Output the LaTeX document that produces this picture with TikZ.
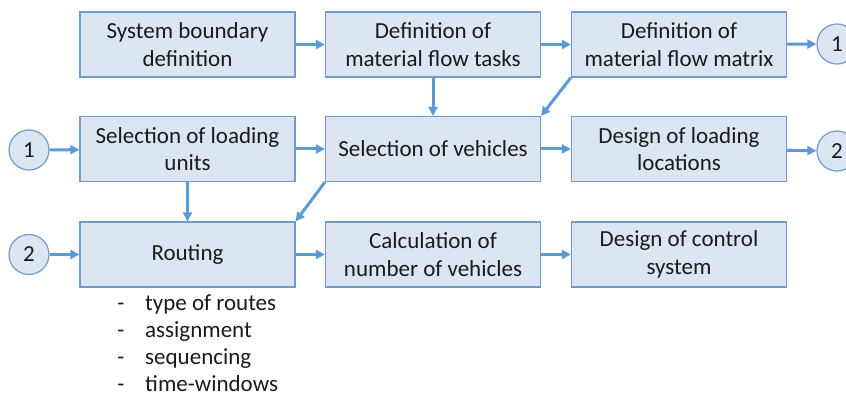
\documentclass[tikz,border=0pt]{standalone}
\usepackage{fontspec}
\setmainfont{Carlito}
\usepackage{xcolor}
\usetikzlibrary{positioning,arrows.meta}

\definecolor{boxfill}{HTML}{DCE6F2}
\definecolor{boxline}{HTML}{729ACA}
\definecolor{flowblue}{HTML}{5B9BD5}
\definecolor{txt}{HTML}{1A1A1A}

\tikzset{
  stepbox/.style={draw=boxline, fill=boxfill, line width=1.2pt, minimum width=215pt,
    minimum height=65pt, inner sep=0pt, align=center, text=txt,
    font=\fontsize{23}{27.5}\selectfont},
  connector/.style={draw=boxline, fill=boxfill, line width=1.2pt, circle,
    minimum size=40pt, inner sep=0pt, text=txt, font=\fontsize{23}{27.5}\selectfont},
  flow/.style={draw=flowblue, line width=3pt, -{Triangle[length=9pt,width=9pt]}},
  item/.style={text=txt, inner sep=0pt, font=\fontsize{23}{27.5}\selectfont}
}

\begin{document}
\begin{tikzpicture}[x=1pt,y=-1pt]
    \useasboundingbox (0,0) rectangle (846,398);

    % Top row
    \node[stepbox] (sysb) at (187.5,44.5) {System boundary\\definition};
    \node[stepbox] (mft)  at (433,44.5)   {Definition of\\material flow tasks};
    \node[stepbox] (mfm)  at (679,44.5)   {Definition of\\material flow matrix};

    % Middle row
    \node[stepbox] (lu)   at (187.5,149)  {Selection of loading\\units};
    \node[stepbox] (veh)  at (433,149)    {Selection of vehicles};
    \node[stepbox] (loc)  at (679,149)    {Design of loading\\locations};

    % Bottom row
    \node[stepbox] (rout) at (187.5,254.5) {Routing};
    \node[stepbox] (num)  at (433,254.5)   {Calculation of\\number of vehicles};
    \node[stepbox] (ctrl) at (679,254.5)   {Design of control\\system};

    % Connectors
    \node[connector] (outa) at (837,44)   {1};
    \node[connector] (ina)  at (29,150)   {1};
    \node[connector] (outb) at (837,151)  {2};
    \node[connector] (inb)  at (29,254.5) {2};

    % Routing details
    \foreach \txt [count=\i] in {type of routes, assignment, sequencing, time-windows} {
        \node[item, anchor=base] (d\i) at (121,283+27*\i) {-};
        \node[item, anchor=base west] (t\i) at (145,283+27*\i) {\txt};
    }

    % Flows
    \draw[flow] (sysb) -- (mft);
    \draw[flow] (mft) -- (mfm);
    \draw[flow] (mfm) -- (outa);
    \draw[flow] (mft) -- (veh);
    \draw[flow] (mfm.south west) -- (veh.north east);
    \draw[flow] (ina) -- (lu);
    \draw[flow] (lu) -- (veh);
    \draw[flow] (veh) -- (loc);
    \draw[flow] (loc) -- (outb);
    \draw[flow] (lu) -- (rout);
    \draw[flow] (veh.south west) -- (rout.north east);
    \draw[flow] (inb) -- (rout);
    \draw[flow] (rout) -- (num);
    \draw[flow] (num) -- (ctrl);
\end{tikzpicture}
\end{document}
